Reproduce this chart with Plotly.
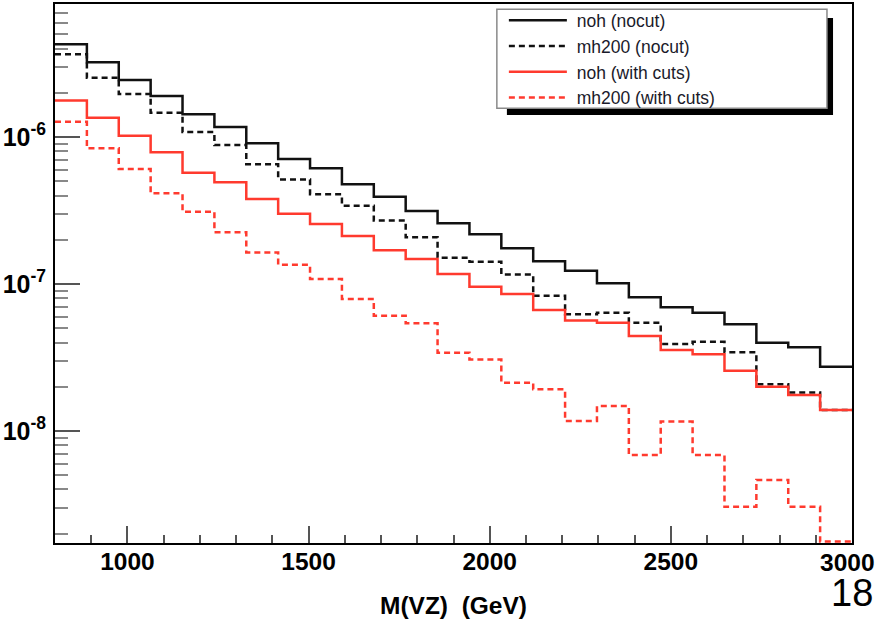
import numpy as np
import plotly.graph_objects as go

# Histogram binning: 25 bins of 88 GeV between 800 and 3000 GeV
M_LO, M_HI, N_BINS = 800.0, 3000.0, 25
edges = np.linspace(M_LO, M_HI, N_BINS + 1)

# Bin contents (dsigma per bin) for each sample
noh_nocut = [4.27e-6, 3.22e-6, 2.44e-6, 1.90e-6, 1.43e-6, 1.17e-6, 9.06e-7, 7.08e-7,
             6.12e-7, 4.77e-7, 3.93e-7, 3.14e-7, 2.59e-7, 2.18e-7, 1.75e-7, 1.43e-7,
             1.23e-7, 1.01e-7, 8.12e-8, 6.94e-8, 6.38e-8, 5.32e-8, 3.99e-8, 3.71e-8, 2.74e-8]
mh200_nocut = [3.65e-6, 2.53e-6, 1.96e-6, 1.46e-6, 1.08e-6, 8.82e-7, 6.52e-7, 5.15e-7,
               4.08e-7, 3.41e-7, 2.70e-7, 2.08e-7, 1.51e-7, 1.42e-7, 1.16e-7, 8.32e-8,
               6.22e-8, 6.38e-8, 5.45e-8, 3.91e-8, 4.05e-8, 3.43e-8, 2.08e-8, 1.83e-8, 1.39e-8]
noh_cuts = [1.77e-6, 1.35e-6, 1.02e-6, 7.87e-7, 5.71e-7, 4.92e-7, 3.79e-7, 3.01e-7,
            2.56e-7, 2.12e-7, 1.70e-7, 1.48e-7, 1.17e-7, 9.59e-8, 8.55e-8, 6.65e-8,
            5.65e-8, 5.45e-8, 4.43e-8, 3.56e-8, 3.33e-8, 2.57e-8, 2.00e-8, 1.76e-8, 1.39e-8]
mh200_cuts = [1.27e-6, 8.38e-7, 6.06e-7, 4.14e-7, 3.10e-7, 2.25e-7, 1.64e-7, 1.35e-7,
              1.08e-7, 7.91e-8, 6.09e-8, 5.40e-8, 3.41e-8, 3.07e-8, 2.13e-8, 1.92e-8,
              1.17e-8, 1.48e-8, 6.87e-9, 1.16e-8, 6.87e-9, 3.05e-9, 4.64e-9, 3.05e-9, 1.77e-9]

series = [
    ("noh (nocut)", noh_nocut, "#111111", "solid"),
    ("mh200 (nocut)", mh200_nocut, "#111111", "6px,4px"),
    ("noh (with cuts)", noh_cuts, "#ff3a2e", "solid"),
    ("mh200 (with cuts)", mh200_cuts, "#ff3a2e", "6px,4px"),
]

y_ticks = [1e-8, 1e-7, 1e-6]
y_tick_text = ["10<sup>-8</sup>", "10<sup>-7</sup>", "10<sup>-6</sup>"]
y_minor = [k * 10.0 ** e for e in (-9, -8, -7, -6) for k in range(2, 10)]
x_ticks = [1000, 1500, 2000, 2500, 3000]
x_tick_text = ["1000", "1500", "2000", "2500", ""]
X_LAST_LABEL = "3000"   # drawn separately, nudged left to stay inside the canvas

FONT = "Liberation Sans, Arial, sans-serif"
TICK_FONT = dict(family=FONT, size=24.5, color="black", weight="bold")

fig = go.Figure()
for name, vals, color, dash in series:
    fig.add_trace(go.Scatter(
        x=edges, y=list(vals) + [vals[-1]], mode="lines", name="\u00a0" + name,
        line=dict(color=color, width=2.5, dash=dash, shape="hv"),
    ))

axis_common = dict(showline=True, linecolor="black", linewidth=2, mirror=True,
                   showgrid=False, zeroline=False, ticks="inside", tickcolor="#555",
                   automargin=False)

fig.update_xaxes(range=[M_LO, M_HI], tickvals=x_ticks, ticktext=x_tick_text,
                 ticklen=17, tickwidth=1.5, tickfont=TICK_FONT,
                 minor=dict(ticks="inside", ticklen=8, dtick=100, tickcolor="#555",
                            tickwidth=1.5, showgrid=False),
                 ticklabelstandoff=-4,
                 title=dict(text="M(VZ)\u00a0\u00a0(GeV)", standoff=22,
                            font=dict(family=FONT, size=24.5, color="black", weight="bold")),
                 **axis_common)
fig.update_yaxes(type="log", range=[-8.762, -5.095], tickvals=y_ticks,
                 ticktext=y_tick_text, ticklen=25, tickwidth=1.5,
                 tickfont=dict(family=FONT, size=25, color="black", weight="bold"),
                 minor=dict(ticks="inside", ticklen=13, tickvals=y_minor,
                            tickcolor="#888", tickwidth=1.5, showgrid=False),
                 ticklabelstandoff=2,
                 **axis_common)

fig.add_annotation(text=X_LAST_LABEL, x=x_ticks[-1], xref="x", y=-0.0353, yref="paper",
                   showarrow=False, xanchor="center", yanchor="middle", xshift=-5,
                   font=TICK_FONT)

# Legend frame with drop shadow
fig.add_shape(type="rect", xref="paper", yref="paper", x0=0.567, x1=0.9762,
              y0=0.7941, y1=0.974, fillcolor="black", line=dict(width=0), layer="above")
fig.add_shape(type="rect", xref="paper", yref="paper", x0=0.5544, x1=0.9686,
              y0=0.8065, y1=0.9902, fillcolor="white",
              line=dict(color="#8a8a8a", width=1.5), layer="above")

fig.add_annotation(text="18", xref="paper", yref="paper", x=1.0, y=-0.092,
                   showarrow=False, xanchor="center", yanchor="middle",
                   font=dict(family=FONT, size=38, color="black"))

fig.update_layout(
    width=877, height=626,
    margin=dict(l=55, r=25, t=4, b=83, autoexpand=False),
    paper_bgcolor="white", plot_bgcolor="white",
    showlegend=True,
    legend=dict(x=0.5632, y=1.003, xanchor="left", yanchor="top",
                bgcolor="rgba(0,0,0,0)", borderwidth=0, itemwidth=58,
                font=dict(family=FONT, size=17.5, color="#1a1a2a"),
                tracegroupgap=0),
)

fig.write_html("out.html")
